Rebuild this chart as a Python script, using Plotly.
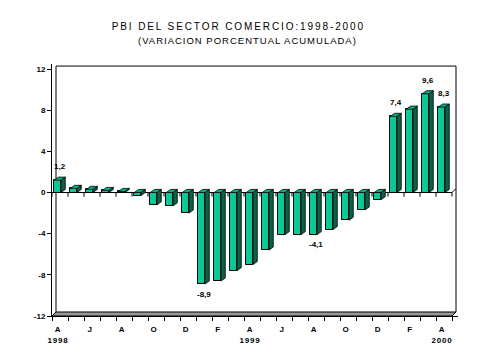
import plotly.graph_objects as go

# ---- data ----
months = ["A", "M", "J", "J", "A", "S", "O", "N", "D", "E", "F", "M",
          "A", "M", "J", "J", "A", "S", "O", "N", "D", "E", "F", "M", "A"]
values = [1.2, 0.4, 0.3, 0.2, 0.1, -0.3, -1.2, -1.3, -2.0, -8.9, -8.6, -7.6,
          -7.0, -5.6, -4.1, -4.1, -4.1, -3.6, -2.7, -1.7, -0.7, 7.4, 8.1, 9.6, 8.3]
year_labels = ["1998", "1999", "2000"]
year_index = [0, 12, 24]
label_index = [0, 9, 16, 21, 23, 24]
y_ticks = [-12, -8, -4, 0, 4, 8, 12]

title = "PBI DEL SECTOR COMERCIO:1998-2000"
subtitle = "(VARIACION PORCENTUAL ACUMULADA)"

# ---- style ----
FRONT = "#00CC99"
SIDE = "#006650"
TOP = "#00B386"
FONT = "Arial, Liberation Sans, sans-serif"

x = list(range(len(values)))
w = 0.42      # front width (category units)
dx = 0.27     # depth offset in x
dy = 0.30     # depth offset in y
x_lo, x_hi = -0.35, 25.025
y_lo, y_hi = -12, 12.49
wall_dx, wall_dy = 0.25, 0.39

fig = go.Figure()

# front faces
fig.add_trace(go.Bar(
    x=x, y=values, width=w, marker=dict(color=FRONT, line=dict(color="black", width=1)),
    hoverinfo="skip", showlegend=False))

# side and top faces built from the data
sx, sy, tx, ty = [], [], [], []
for xi, v in zip(x, values):
    xl, xr = xi - w / 2, xi + w / 2
    top = max(v, 0)
    bot = min(v, 0)
    sx += [xr, xr + dx, xr + dx, xr, xr, None]
    sy += [bot, bot + dy, top + dy, top, bot, None]
    tx += [xl, xl + dx, xr + dx, xr, xl, None]
    ty += [top, top + dy, top + dy, top, top, None]

fig.add_trace(go.Scatter(x=sx, y=sy, mode="lines", fill="toself", fillcolor=SIDE,
                         line=dict(color="black", width=0.8), hoverinfo="skip", showlegend=False))
fig.add_trace(go.Scatter(x=tx, y=ty, mode="lines", fill="toself", fillcolor=TOP,
                         line=dict(color="black", width=0.8), hoverinfo="skip", showlegend=False))

# ---- walls, floor and zero plane ----
shapes = []
n = len(values)
back_left = x_lo + wall_dx
back_right = x_lo + n + wall_dx
front_right = x_lo + n
floor_back = y_lo + wall_dy
top_wall = y_lo + 24 + wall_dy - 0.1
shapes.append(dict(type="path", xref="x", yref="y", layer="below",
                   path=f"M {x_lo},{y_lo} L {front_right},{y_lo} L {back_right},{floor_back} L {back_left},{floor_back} Z",
                   fillcolor="#999999", line=dict(color="black", width=1)))
shapes.append(dict(type="path", xref="x", yref="y", layer="below",
                   path=f"M {back_left},{floor_back} L {back_left},{top_wall} L {back_right},{top_wall} L {back_right},{floor_back}",
                   line=dict(color="black", width=1)))
zpath = f"M {x_lo},0 L {front_right},0 L {back_right},{wall_dy}"
for k in range(n + 1):
    zpath += f" M {x_lo + k},0 L {x_lo + k},-0.4"
shapes.append(dict(type="path", xref="x", yref="y", layer="below",
                   path=zpath, line=dict(color="black", width=1)))

# ---- annotations ----
ann = []
ann.append(dict(text=title, xref="paper", yref="paper", x=0.459, y=1.147,
                xanchor="center", yanchor="middle", showarrow=False,
                font=dict(family=FONT, size=10, color="black")))
ann.append(dict(text=subtitle, xref="paper", yref="paper", x=0.4815, y=1.093,
                xanchor="center", yanchor="middle", showarrow=False,
                font=dict(family=FONT, size=9.5, color="black")))
for yl, yi in zip(year_labels, year_index):
    ann.append(dict(text=yl, xref="x", yref="paper", x=yi, y=-0.099,
                    xanchor="center", yanchor="middle", showarrow=False,
                    font=dict(family=FONT, size=8, color="black", weight="bold")))
for i in label_index:
    v = values[i]
    ann.append(dict(text=f"{v:.1f}".replace(".", ","), xref="x", yref="y",
                    x=i + 0.15, y=v, yshift=13.5 if v > 0 else -10,
                    xanchor="center", yanchor="middle", showarrow=False,
                    font=dict(family=FONT, size=8, color="black", weight="bold")))

fig.update_layout(
    width=484, height=360,
    margin=dict(l=52, r=26, t=64, b=44, pad=0),
    paper_bgcolor="white", plot_bgcolor="white",
    showlegend=False, bargap=0,
    shapes=shapes, annotations=ann,
    xaxis=dict(range=[x_lo, x_hi], tickvals=x[::2], ticktext=months[::2],
               ticks="", showline=True, linecolor="black", linewidth=1,
               showgrid=False, zeroline=False, ticklabelstandoff=5,
               tickfont=dict(family=FONT, size=8, color="black", weight="bold"),
               minor=dict(tickvals=[x_lo + k for k in range(n + 1)], ticks="outside",
                          ticklen=4, tickcolor="black", showgrid=False)),
    yaxis=dict(range=[y_lo, y_hi], tickvals=y_ticks, ticktext=[str(t) for t in y_ticks],
               ticks="outside", ticklen=4, tickcolor="black", showline=True,
               linecolor="black", linewidth=1, showgrid=False, zeroline=False,
               tickfont=dict(family=FONT, size=8, color="black", weight="bold")),
)

post = """
document.body.style.margin = '0';
document.body.style.padding = '0';
document.querySelectorAll('text.annotation-text').forEach(function(t){
  var s = t.textContent;
  if (s.indexOf('PBI') === 0) { t.style.letterSpacing = '1.9px'; }
  else if (s.indexOf('(VAR') === 0) { t.style.letterSpacing = '1px'; }
  else if (/^\\d{4}$/.test(s)) { t.style.letterSpacing = '0.8px'; }
});
"""
fig.write_html("out.html", post_script=post, config={"displayModeBar": False})
